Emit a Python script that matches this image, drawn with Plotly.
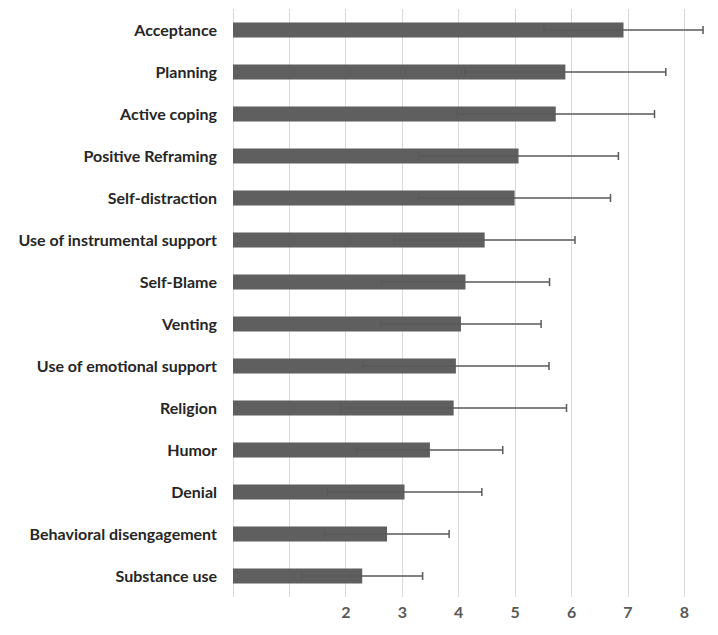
import plotly.graph_objects as go

strategies = [
    "Acceptance", "Planning", "Active coping", "Positive Reframing",
    "Self-distraction", "Use of instrumental support", "Self-Blame", "Venting",
    "Use of emotional support", "Religion", "Humor", "Denial",
    "Behavioral disengagement", "Substance use",
]
means = [6.92, 5.89, 5.72, 5.06, 4.99, 4.46, 4.12, 4.04, 3.95, 3.91, 3.49, 3.04, 2.73, 2.29]
sds = [1.41, 1.78, 1.75, 1.77, 1.70, 1.60, 1.49, 1.42, 1.65, 2.00, 1.29, 1.37, 1.10, 1.07]

tick_vals = [0, 1, 2, 3, 4, 5, 6, 7, 8]
tick_text = ["", "", "2", "3", "4", "5", "6", "7", "8"]

fig = go.Figure()
fig.add_trace(go.Bar(
    x=means,
    y=strategies,
    orientation="h",
    marker_color="#5f5f5f",
    marker_line_width=0,
    error_x=dict(type="data", array=sds, color="#5a5a5a", thickness=1.5, width=4),
))

# page body has an 8px margin, so the figure is sized/offset for that
fig.update_layout(
    width=710,
    height=627,
    margin=dict(l=225, r=11, t=1, b=38),
    plot_bgcolor="white",
    paper_bgcolor="white",
    bargap=0.64,
    showlegend=False,
    font=dict(family="Lato", color="#262626"),
)
fig.update_xaxes(
    range=[0, 8.4],
    tickmode="array",
    tickvals=tick_vals,
    ticktext=tick_text,
    showgrid=True,
    gridcolor="#d9d9d9",
    gridwidth=1,
    zeroline=True,
    zerolinecolor="#d9d9d9",
    zerolinewidth=1,
    showline=False,
    tickfont=dict(size=16, color="#595959", family="Lato", weight="bold"),
    ticks="",
    ticklabelstandoff=4,
)
fig.update_yaxes(
    categoryorder="array",
    categoryarray=strategies[::-1],
    showgrid=False,
    tickfont=dict(size=16, color="#262626", family="Lato", weight="bold"),
    ticks="",
    ticklabelstandoff=15,
)

fig.write_html("out.html")
